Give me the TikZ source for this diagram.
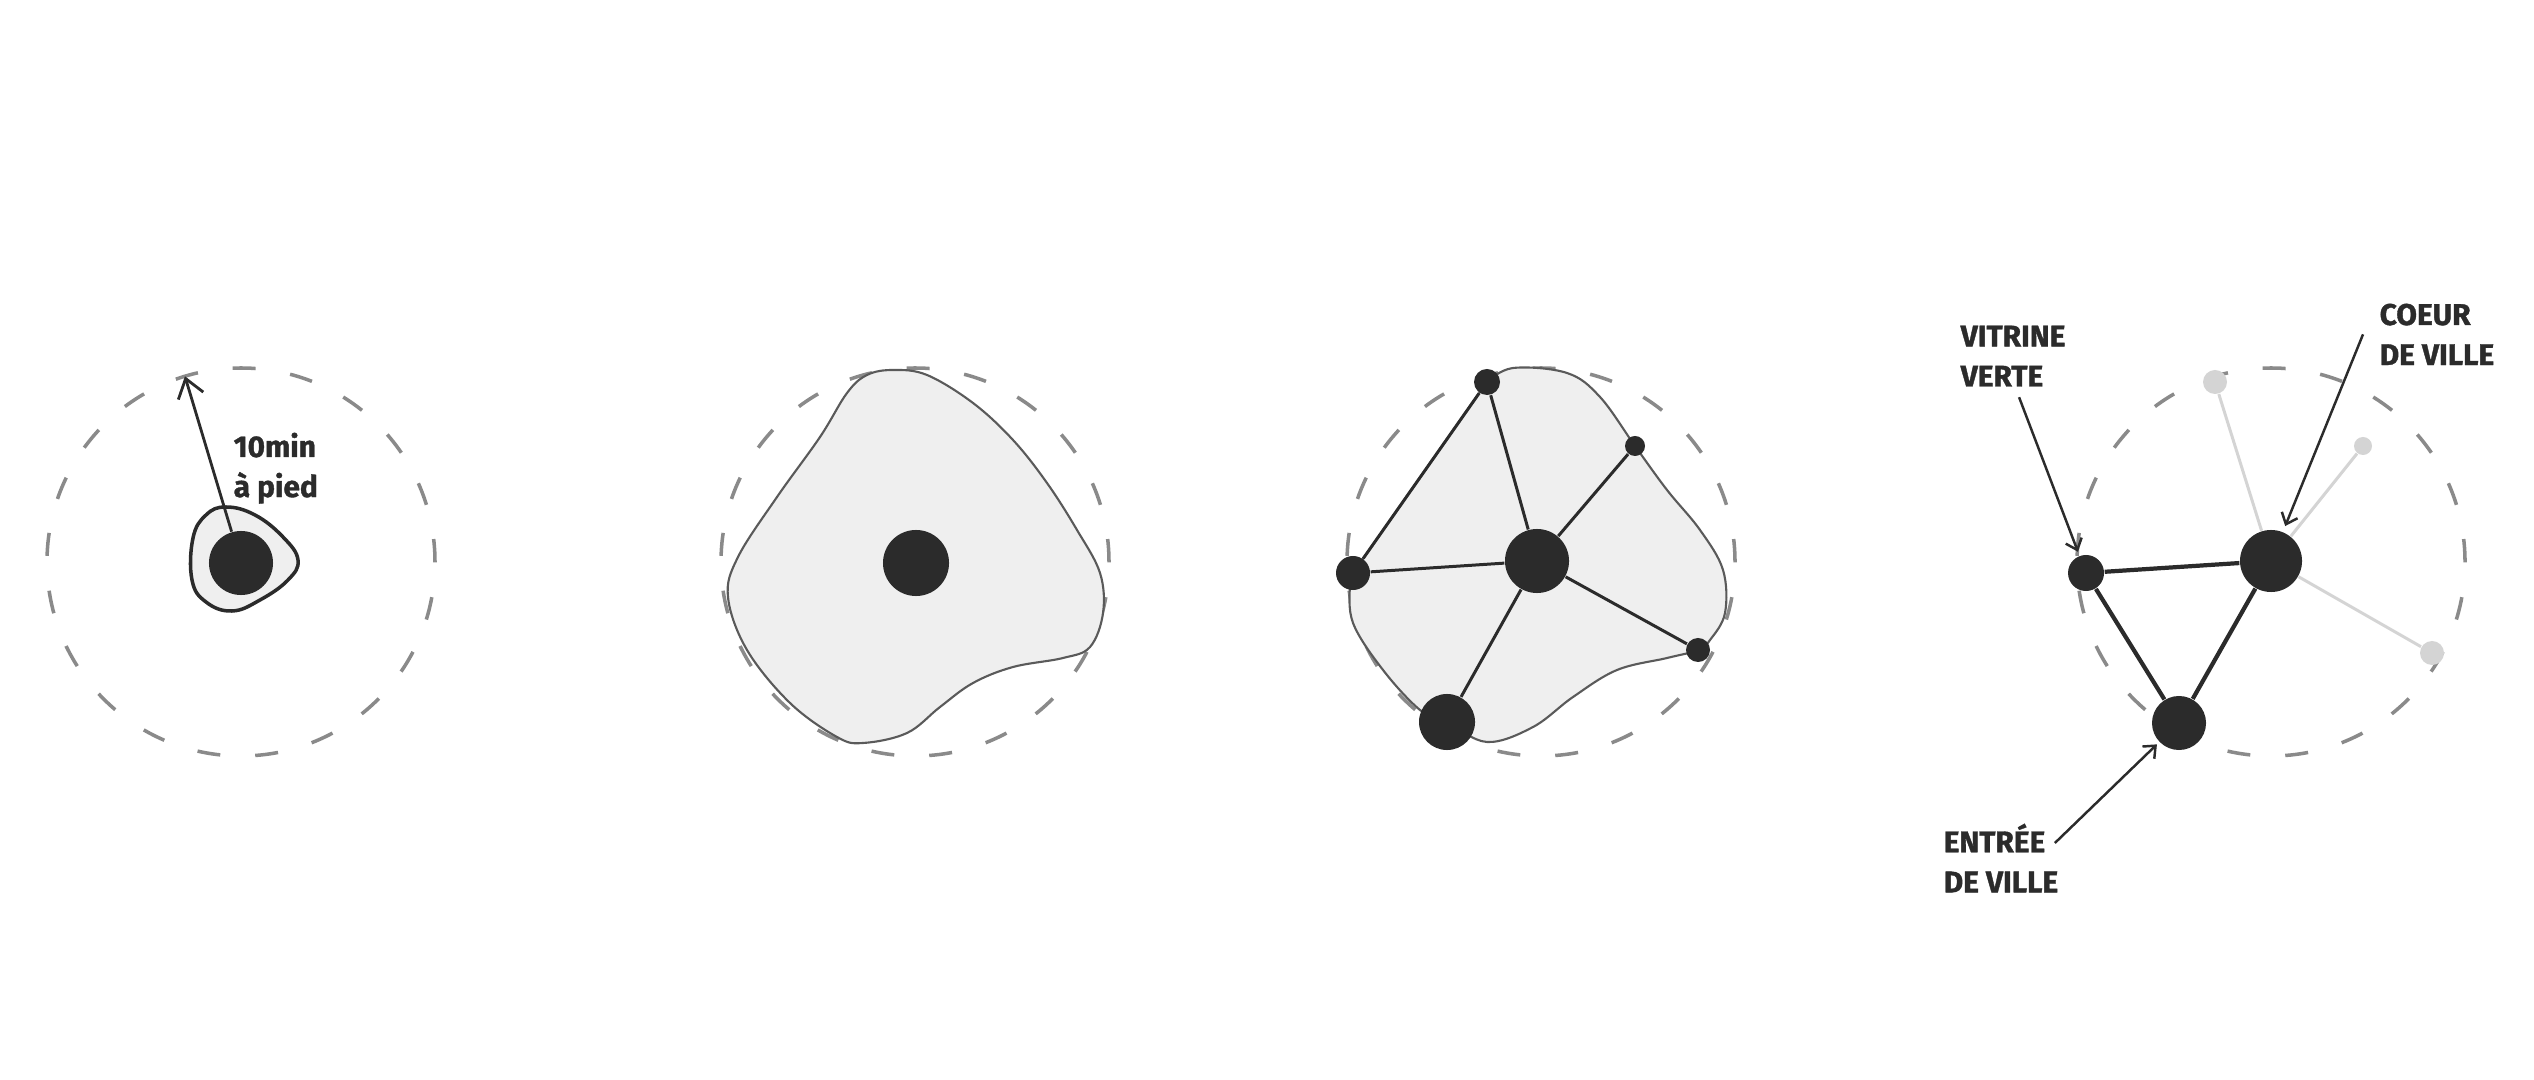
\documentclass[tikz,border=0pt]{standalone}
\usepackage{fontspec}
\setmainfont{Fira Sans}[BoldFeatures={FakeBold=1.2}]
\usetikzlibrary{positioning,arrows.meta,calc}

\definecolor{ink}{HTML}{2B2B2B}
\definecolor{zonegray}{HTML}{8A8A8A}
\definecolor{blobfill}{HTML}{EFEFEF}
\definecolor{blobline}{HTML}{5A5A5A}
\definecolor{ghost}{HTML}{D4D4D4}

\tikzset{
  zone/.style={zonegray, line width=1pt, dash pattern=on 0.23cm off 0.35cm},
  dot/.style={circle, fill=ink, inner sep=0pt, minimum size=#1},
  ghostdot/.style={circle, fill=ghost, inner sep=0pt, minimum size=#1},
  link/.style={ink, line width=0.85pt},
  faint/.style={ghost, line width=0.85pt},
  blob/.style={fill=blobfill, draw=blobline, line width=0.6pt},
  lbl/.style={font=\bfseries\fontsize{8.5}{11.4}\selectfont, text=ink, align=left, inner sep=0pt},
  walk/.style={ink, line width=0.8pt, -{Straight Barb[length=1.8mm,width=2.6mm]}},
  pointer/.style={ink, line width=0.7pt, -{Straight Barb[length=1mm,width=1.7mm]}},
}

\begin{document}
\begin{tikzpicture}[x=0.01cm,y=0.01cm]
\useasboundingbox (0,0) rectangle (2534,-1080);
% 10 min walking circle around each sketch
\foreach \cx in {241,915,1541,2271}
  \draw[zone] (\cx,-562) circle (194);

% 1. a single core
\filldraw[fill=blobfill, draw=ink, line width=1pt] plot[smooth cycle, tension=0.7] coordinates {
  (193,-538) (206,-515) (226,-507) (255,-515) (283,-537) (298,-560)
  (288,-580) (260,-600) (232,-611) (206,-602) (192,-580)};
\node[dot=6.4mm] (core1) at (241,-563) {};
\coordinate (reach1) at ($(241,-562)+(106.8:194)$);
\draw[walk] (core1) -- (reach1);
\node[lbl, anchor=north west] (walk1) at (233,-432) {10min\\à pied};

% 2. the core spreads over the whole area
\draw[blob] plot[smooth cycle, tension=0.6] coordinates {
  (893,-370) (927,-375) (973,-403) (1013,-440) (1047,-483) (1077,-530)
  (1100,-573) (1103,-613) (1090,-647) (1063,-658) (1013,-667) (973,-683)
  (940,-707) (907,-733) (863,-743) (837,-737) (790,-703) (747,-650)
  (728,-597) (738,-557) (777,-497) (820,-437) (847,-393) (867,-375)};
\node[dot=6.6mm] (core2) at (916,-563) {};

% 3. a network of poles
\draw[blob] plot[smooth, tension=0.6] coordinates {
  (1487,-382) (1513,-368) (1567,-373) (1600,-397) (1635,-446) (1667,-490)
  (1700,-530) (1723,-570) (1725,-613) (1710,-640) (1698,-650) (1667,-658)
  (1617,-670) (1573,-697) (1533,-727) (1487,-742) (1447,-722) (1420,-710)
  (1383,-670) (1353,-623) (1350,-583) (1353,-573)} -- cycle;
\node[dot=6.4mm] (hub) at (1537,-561) {};
\node[dot=2.6mm] (n3a) at (1487,-382) {};
\node[dot=2mm]   (n3b) at (1635,-446) {};
\node[dot=3.4mm] (n3c) at (1353,-573) {};
\node[dot=2.4mm] (n3d) at (1698,-650) {};
\node[dot=5.6mm] (n3e) at (1447,-722) {};
\foreach \n in {n3a,n3b,n3c,n3d,n3e}
  \draw[link] (hub) -- (\n);
\draw[link] (n3a) -- (n3c);

% 4. three poles kept
\node[dot=6.2mm] (coeur) at (2271,-561) {};
\node[dot=3.6mm] (vitrine) at (2086,-573) {};
\node[dot=5.4mm] (entree) at (2179,-723) {};
\node[ghostdot=2.4mm] (g1) at (2215,-382) {};
\node[ghostdot=1.8mm] (g2) at (2363,-446) {};
\node[ghostdot=2.4mm] (g3) at (2432,-653) {};
\foreach \g in {g1,g2,g3}
  \draw[faint] (coeur) -- (\g);
\draw[link, line width=1.2pt] (vitrine) -- (coeur) -- (entree) -- (vitrine);

\node[lbl, anchor=north west] (lblVitrine) at (1960,-325) {VITRINE\\VERTE};
\node[lbl, anchor=north west] (lblCoeur) at (2379,-303) {COEUR\\DE VILLE};
\node[lbl, anchor=north west] (lblEntree) at (1943,-823) {ENTRÉE\\DE VILLE};
\draw[pointer, shorten >=0.4mm] ($(lblVitrine.south)+(6,-10)$) -- (vitrine);
\draw[pointer, shorten >=0.6mm] ($(lblCoeur.west)+(-16,0)$) -- (coeur);
\draw[pointer, shorten >=0.3mm] ($(lblEntree.north east)+(-4,-20)$) -- (entree);
\end{tikzpicture}
\end{document}
